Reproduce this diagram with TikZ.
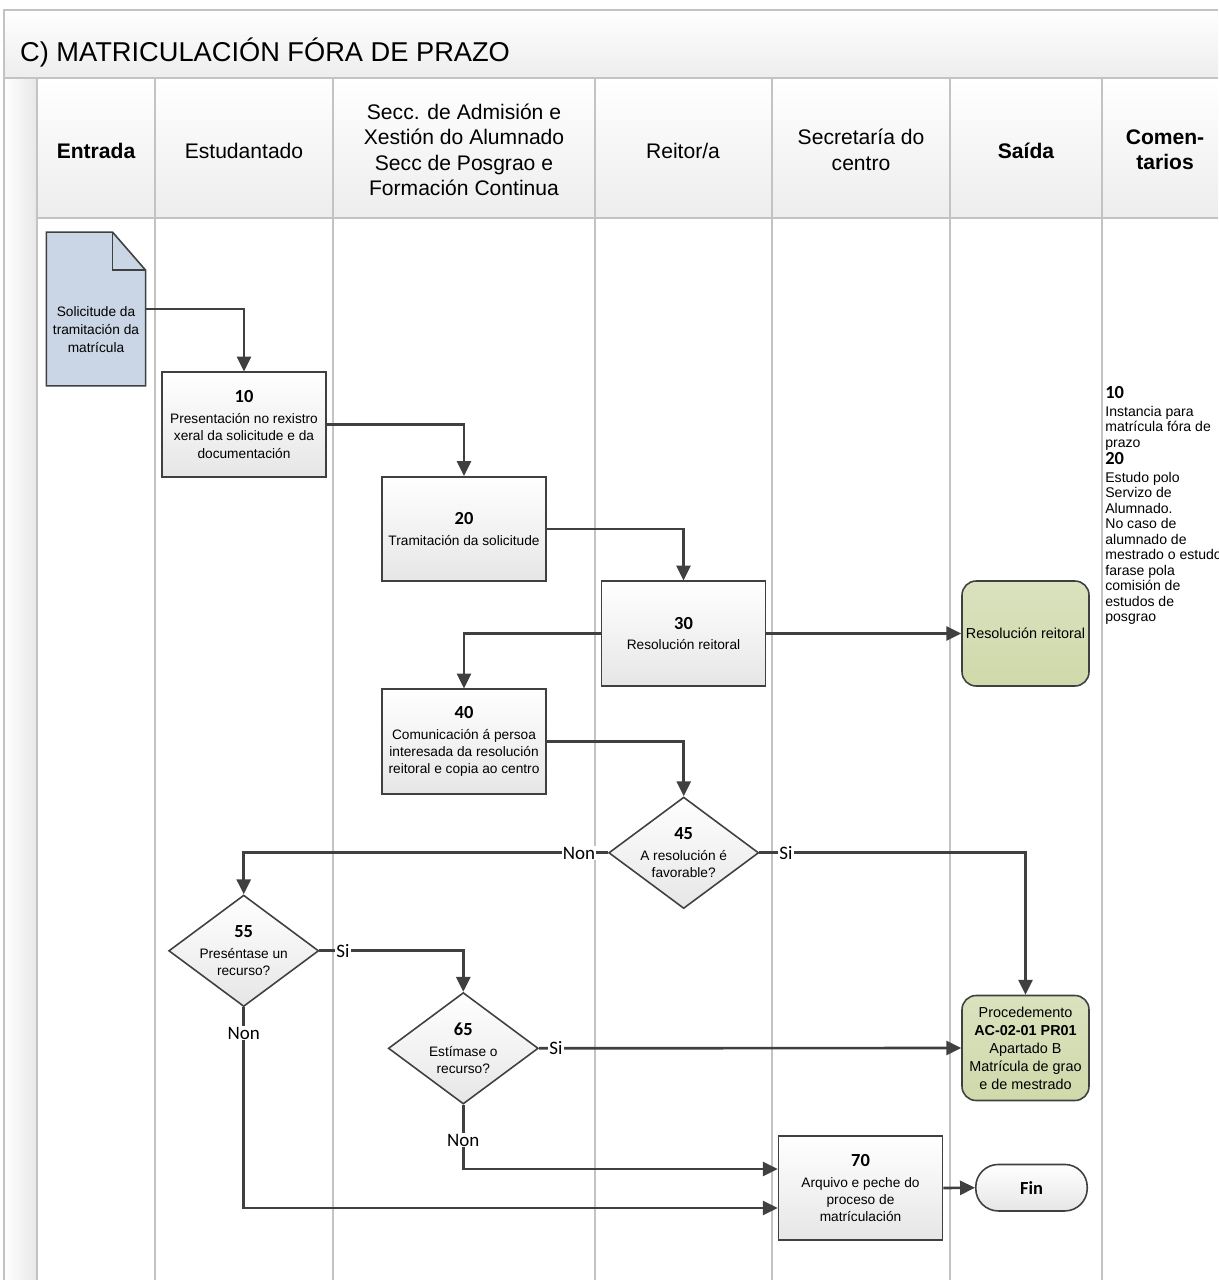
\documentclass[tikz,border=0pt]{standalone}
\usepackage{fontspec}
\setmainfont{Liberation Sans}
\newfontfamily\calibri{Carlito}
\usetikzlibrary{arrows.meta,shapes.geometric,calc}

\definecolor{lanegray}{HTML}{C3C3C3}
\definecolor{flowgray}{HTML}{404040}
\definecolor{boxgray}{HTML}{E6E6E6}
\definecolor{headgray}{HTML}{EDEDED}
\definecolor{stripgray}{HTML}{E8E8E8}
\definecolor{docblue}{HTML}{CAD6E5}
\definecolor{greentop}{HTML}{DAE2BE}
\definecolor{greenbot}{HTML}{CFD9AA}

\newcommand{\stepno}[1]{{\calibri\bfseries\fontsize{10.5}{10.5}\selectfont #1}}

\begin{document}
\begin{tikzpicture}[x=0.02cm,y=-0.02cm,
    lane/.style={draw=lanegray,line width=1.1pt},
    flow/.style={draw=flowgray,line width=1.5pt,-{Triangle[length=8.5pt,width=8pt]}},
    lanehead/.style={align=center,font=\fontsize{12}{14.5}\selectfont},
    taskbox/.style={rectangle,draw=flowgray,line width=0.9pt,top color=white,bottom color=boxgray,
      minimum width=3.28cm,minimum height=2.09cm,inner sep=1pt,align=center,
      font=\fontsize{7.8}{9.9}\selectfont},
    decision/.style={diamond,draw=flowgray,line width=0.9pt,top color=white,bottom color=boxgray,
      minimum width=3cm,minimum height=2.23cm,inner sep=0pt},
    dectext/.style={align=center,inner sep=0pt,font=\fontsize{7.8}{9.9}\selectfont},
    outbox/.style={rectangle,rounded corners=8pt,draw=flowgray,line width=0.9pt,
      top color=greentop,bottom color=greenbot,minimum width=2.54cm,minimum height=2.1cm,
      inner sep=1pt,align=center,font=\fontsize{8.2}{10.2}\selectfont},
    terminal/.style={rectangle,rounded corners=0.45cm,draw=flowgray,line width=0.9pt,
      top color=white,bottom color=boxgray,minimum width=2.23cm,minimum height=0.93cm,
      font=\calibri\bfseries\fontsize{10.5}{12}\selectfont},
    lbl/.style={fill=white,inner sep=0.6pt,font=\calibri\fontsize{10.8}{12}\selectfont},
    comment/.style={align=left,inner sep=0pt,font=\fontsize{8}{8.8}\selectfont}]
  \useasboundingbox (0,0) rectangle (1218,1280);
  % ------ cadro, titulo e cabeceira -----------------
  \shade[top color=white,bottom color=headgray] (4,10) rectangle (1218,78);
  \shade[top color=white,bottom color=headgray] (37,78) rectangle (1218,218);
  \shade[left color=white,right color=stripgray] (4,78) rectangle (37,1280);
  \draw[lane] (4,1280) -- (4,10) -- (1218,10);
  \draw[lane] (4,78) -- (1218,78);
  \draw[lane] (37,218) -- (1218,218);
  \foreach \x in {37,155,333,595,772,950,1102}
    \draw[lane] (\x,78) -- (\x,1280);
  \node[anchor=base west,font=\fontsize{15.5}{18}\selectfont] (title) at (14,62)
    {C) MATRICULACIÓN FÓRA DE PRAZO};
  \node[lanehead,font=\bfseries\fontsize{12}{14.5}\selectfont] (hEntrada) at (96,151) {Entrada};
  \node[lanehead] (hEstud) at (244,151) {Estudantado};
  \node[lanehead] (hSecc) at (464,150)
    {Secc. de Admisión e\\Xestión do Alumnado\\Secc de Posgrao e\\Formación Continua};
  \node[lanehead] (hReitor) at (683,151) {Reitor/a};
  \node[lanehead] (hSecret) at (861,150) {Secretaría do\\centro};
  \node[lanehead,font=\bfseries\fontsize{12}{14.5}\selectfont] (hSaida) at (1026,151) {Saída};
  \node[lanehead,font=\bfseries\fontsize{12}{14.5}\selectfont] (hComent) at (1165,150) {Comen-\\tarios};
  % ------ documento de entrada -----------------
  \node[rectangle,minimum width=1.97cm,minimum height=3.06cm,inner sep=0pt] (doc) at (96,309) {};
  \draw[draw=flowgray,line width=0.9pt,fill=docblue] (doc.south west) -- (doc.north west)
    -- ($(doc.north east)+(-33,0)$) -- ($(doc.north east)+(0,38)$) -- (doc.south east) -- cycle;
  \draw[draw=flowgray,line width=0.9pt] ($(doc.north east)+(-33,0)$) |- ($(doc.north east)+(0,38)$);
  \node[align=center,inner sep=0pt,font=\fontsize{7.8}{10.2}\selectfont] (docText) at (96,330)
    {Solicitude da\\tramitación da\\matrícula};
  % ------ tarefas -----------------
  \node[taskbox] (t10) at (244,424.5)
    {\stepno{10}\\[2pt]Presentación no rexistro\\xeral da solicitude e da\\documentación};
  \node[taskbox] (t20) at (464,529) {\stepno{20}\\[2pt]Tramitación da solicitude};
  \node[taskbox] (t30) at (683.5,633.5) {\stepno{30}\\[2pt]Resolución reitoral};
  \node[taskbox] (t40) at (464,741.5)
    {\stepno{40}\\[2pt]Comunicación á persoa\\interesada da resolución\\reitoral e copia ao centro};
  \node[taskbox] (t70) at (860.5,1188)
    {\stepno{70}\\[2pt]Arquivo e peche do\\proceso de\\matrículación};
  % ------ decisions -----------------
  \node[decision] (d45) at (683.7,852.8) {};
  \node[dectext] (d45t) at (d45) {\stepno{45}\\[2pt]A resolución é\\favorable?};
  \node[decision] (d55) at (243.7,950.8) {};
  \node[dectext] (d55t) at (d55) {\stepno{55}\\[2pt]Preséntase un\\recurso?};
  \node[decision] (d65) at (463.3,1048.3) {};
  \node[dectext] (d65t) at (d65) {\stepno{65}\\[2pt]Estímase o\\recurso?};
  % ------ saidas e fin -----------------
  \node[outbox] (outRes) at (1025.5,633.5) {Resolución reitoral};
  \node[outbox] (outProc) at (1025.5,1048)
    {Procedemento\\\textbf{AC-02-01 PR01}\\Apartado B\\Matrícula de grao\\e de mestrado};
  \node[terminal] (fin) at (1031.5,1187.7) {Fin};
  % ------ conectores -----------------
  \draw[flow] (doc.east) -| (t10.north);
  \draw[flow] (t10.east) -| (t20.north);
  \draw[flow] (t20.east) -| (t30.north);
  \draw[flow] (t30.west) -| (t40.north);
  \draw[flow] (t30.east) -- (outRes.west);
  \draw[flow] (t40.east) -| (d45.north);
  \draw[flow] (d45.west) -| (d55.north);
  \draw[flow] (d45.east) -| (outProc.north);
  \draw[flow] (d55.east) -| (d65.north);
  \draw[flow] (d55.south) |- (t70.west |- 0,1208);
  \draw[flow] (d65.east) -- (outProc.west);
  \draw[flow] (d65.south) |- (t70.west |- 0,1169);
  \draw[flow] (t70.east) -- (fin.west);
  \node[lbl] (lNon45) at (579,853) {Non};
  \node[lbl] (lSi45) at (786,853) {Si};
  \node[lbl] (lSi55) at (343,951) {Si};
  \node[lbl] (lNon55) at (243.7,1033) {Non};
  \node[lbl] (lSi65) at (556,1048.3) {Si};
  \node[lbl] (lNon65) at (463.3,1140) {Non};
  % ------ comentarios -----------------
  \node[comment,anchor=north west] (coment) at (1105,386)
    {\stepno{10}\\[1.4pt]
     Instancia para\\matrícula fóra de\\prazo\\[1pt]
     \stepno{20}\\[1.4pt]
     Estudo polo\\Servizo de\\Alumnado.\\No caso de\\alumnado de\\mestrado o estudo\\
     farase pola\\comisión de\\estudos de\\posgrao};
\end{tikzpicture}
\end{document}
